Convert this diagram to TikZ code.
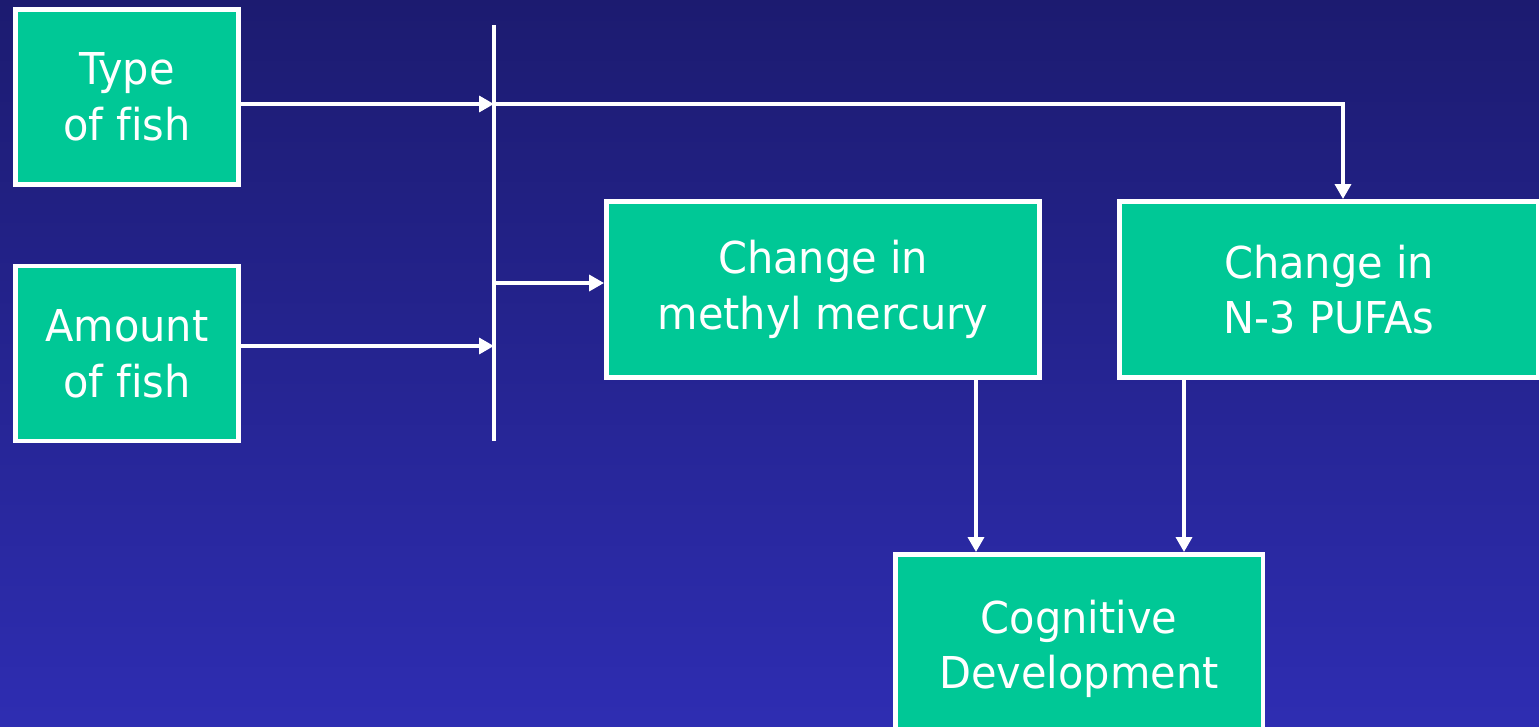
\documentclass[tikz,border=0pt]{standalone}
\usepackage{fontspec}
\setmainfont{DejaVu Sans}[FakeStretch=0.945, Ligatures=NoCommon]
\usetikzlibrary{arrows.meta}
\definecolor{boxgreen}{RGB}{0,200,150}
\definecolor{bgtop}{RGB}{28,27,112}
\definecolor{bgbot}{RGB}{46,45,178}
\tikzset{
  factor/.style = {draw = white, line width = 2.8pt, fill = boxgreen, text = white,
    align = center, inner sep = 0pt, font = \fontsize{25}{31.7}\selectfont},
  flow/.style = {draw = white, line width = 2.5pt, -{Triangle[length = 8.5pt, width = 9pt]}}
}
\begin{document}
\begin{tikzpicture}[x = .02cm, y = -.02cm]
  \useasboundingbox (0,0) rectangle (1539,727);
  \clip (0,0) rectangle (1539,727);
  \shade [top color = bgtop, bottom color = bgbot] (0,0) rectangle (1539,727);
  \node [factor, minimum width = 4.46cm, minimum height = 3.5cm] (type) at (127,97) {Type\\of fish};
  \node [factor, minimum width = 4.46cm, minimum height = 3.5cm] (amount) at (127,353.5) {Amount\\of fish};
  \node [factor, minimum width = 8.66cm, minimum height = 3.52cm] (mercury) at (823,289.5) {Change in\\methyl mercury};
  \node [factor, minimum width = 8.38cm, minimum height = 3.52cm] (pufa) at (1329,289.5) {Change in\\N-3 PUFAs};
  \node [factor, minimum width = 7.36cm, minimum height = 3.78cm] (cog) at (1079,649) {Cognitive\\Development};
  \coordinate (bartop) at (494,25);
  \coordinate (barbot) at (494,441);
  \coordinate (jtype) at (494,104);
  \coordinate (jamount) at (494,346);
  \coordinate (jmerc) at (494,283);
  \coordinate (turn) at (1343,104);
  \coordinate (mdown) at (976,0);
  \coordinate (pdown) at (1184,0);
  \draw [white, line width = 2.5pt] (bartop) -- (barbot);
  \draw [flow] (type.east |- jtype) -- (jtype);
  \draw [flow] (amount.east |- jamount) -- (jamount);
  \draw [flow] (jmerc) -- (mercury.west |- jmerc);
  \draw [flow] (jtype) -- (turn) -- (turn |- pufa.north);
  \draw [flow] (mercury.south -| mdown) -- (cog.north -| mdown);
  \draw [flow] (pufa.south -| pdown) -- (cog.north -| pdown);
\end{tikzpicture}
\end{document}
